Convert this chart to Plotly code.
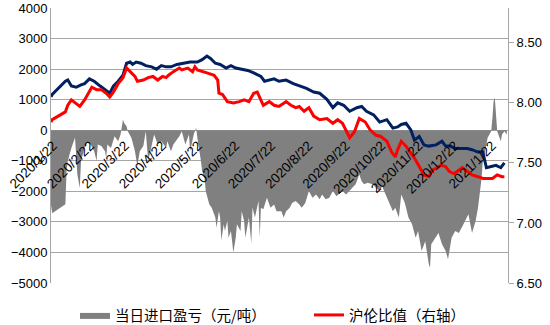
import plotly.graph_objects as go

# ---------------- data ----------------
gray_dates = [
    "2020-01-22", "2020-01-23", "2020-02-03", "2020-02-04", "2020-02-05", "2020-02-08", "2020-02-11",
    "2020-02-13", "2020-02-15", "2020-02-16", "2020-02-19", "2020-02-22", "2020-02-24", "2020-02-27",
    "2020-02-29", "2020-03-01", "2020-03-04", "2020-03-07", "2020-03-08", "2020-03-09", "2020-03-12",
    "2020-03-15", "2020-03-18", "2020-03-20", "2020-03-22", "2020-03-23", "2020-03-25", "2020-03-26",
    "2020-03-29", "2020-04-01", "2020-04-03", "2020-04-05", "2020-04-08", "2020-04-10", "2020-04-12",
    "2020-04-14", "2020-04-17", "2020-04-20", "2020-04-23", "2020-04-27", "2020-04-28", "2020-05-01",
    "2020-05-03", "2020-05-08", "2020-05-10", "2020-05-13", "2020-05-16", "2020-05-17", "2020-05-20",
    "2020-05-22", "2020-05-23", "2020-05-26", "2020-05-27", "2020-05-29", "2020-05-30", "2020-06-02",
    "2020-06-04", "2020-06-07", "2020-06-08", "2020-06-10", "2020-06-11", "2020-06-12", "2020-06-14",
    "2020-06-15", "2020-06-17", "2020-06-18", "2020-06-20", "2020-06-21", "2020-06-22", "2020-06-24",
    "2020-06-25", "2020-06-28", "2020-06-29", "2020-07-01", "2020-07-02", "2020-07-03", "2020-07-05",
    "2020-07-07", "2020-07-08", "2020-07-10", "2020-07-13", "2020-07-14", "2020-07-15", "2020-07-17",
    "2020-07-20", "2020-07-23", "2020-07-26", "2020-07-28", "2020-08-01", "2020-08-03", "2020-08-05",
    "2020-08-08", "2020-08-10", "2020-08-13", "2020-08-16", "2020-08-18", "2020-08-21", "2020-08-24",
    "2020-08-27", "2020-08-30", "2020-09-02", "2020-09-04", "2020-09-07", "2020-09-10", "2020-09-13",
    "2020-09-16", "2020-09-18", "2020-09-21", "2020-09-24", "2020-09-27", "2020-09-29", "2020-10-02",
    "2020-10-05", "2020-10-07", "2020-10-09", "2020-10-12", "2020-10-16", "2020-10-19", "2020-10-22",
    "2020-10-24", "2020-10-27", "2020-10-30", "2020-11-02", "2020-11-04", "2020-11-07", "2020-11-09",
    "2020-11-12", "2020-11-15", "2020-11-18", "2020-11-21", "2020-11-23", "2020-11-26", "2020-11-29",
    "2020-12-02", "2020-12-03", "2020-12-04", "2020-12-07", "2020-12-10", "2020-12-13", "2020-12-16",
    "2020-12-18", "2020-12-21", "2020-12-24", "2020-12-27", "2020-12-30", "2021-01-01", "2021-01-04",
    "2021-01-07", "2021-01-10", "2021-01-12", "2021-01-14", "2021-01-15", "2021-01-16", "2021-01-18",
    "2021-01-20", "2021-01-23", "2021-01-24", "2021-01-25", "2021-01-26", "2021-01-27", "2021-01-28",
    "2021-01-31", "2021-02-01", "2021-02-03", "2021-02-05",
]
gray_values = [
    -2450, -2720, -2420, -1300, -1010, -580, -250,
    -1450, -1890, -1010, -580, -360, -470, -690,
    -1010, -470, -520, -690, -900, -470, -580,
    -200, -360, -140, 350, 240, 130, -30,
    -250, -690, -1180, -690, -520, -30, -1010,
    -690, -140, -470, -360, -580, -360, -690,
    -470, -200, -30, -470, -140, -690, -140,
    80, -250, -1010, -1340, -1560, -1990, -2430,
    -2540, -2860, -3190, -2650, -2860, -3600, -3080,
    -3300, -2970, -3520, -3300, -3630, -4010, -3520,
    -3080, -3300, -2650, -2970, -3520, -3300, -2860,
    -3700, -2540, -2860, -2320, -3500, -2540, -2590,
    -2210, -2540, -2430, -2650, -2650, -2860, -2650,
    -2540, -2380, -2320, -2430, -2540, -2380, -1990,
    -2210, -2100, -2260, -2100, -2260, -2210, -1990,
    -2160, -2100, -1990, -2100, -1990, -1890, -1770,
    -1450, -1670, -1770, -1720, -1770, -1890, -1990,
    -1830, -2100, -2380, -2650, -2540, -2860, -2100,
    -2380, -2860, -3080, -3520, -3300, -3950, -3630,
    -4390, -4500, -3730, -3520, -3360, -3730, -3950,
    -4220, -3520, -3300, -3360, -3140, -2970, -2750,
    -3360, -2970, -2540, -1990, -1560, -1010, -690,
    -250, -30, 400, 950, 1060, 400, -30,
    -360, -140, -30, -140,
]

blue_dates = [
    "2020-01-22", "2020-01-23", "2020-02-03", "2020-02-05", "2020-02-08", "2020-02-12", "2020-02-16",
    "2020-02-19", "2020-02-23", "2020-02-27", "2020-03-03", "2020-03-07", "2020-03-11", "2020-03-14",
    "2020-03-18", "2020-03-22", "2020-03-25", "2020-03-28", "2020-03-30", "2020-04-02", "2020-04-06",
    "2020-04-10", "2020-04-15", "2020-04-19", "2020-04-23", "2020-04-27", "2020-05-01", "2020-05-06",
    "2020-05-12", "2020-05-17", "2020-05-23", "2020-05-27", "2020-05-31", "2020-06-03", "2020-06-07",
    "2020-06-11", "2020-06-16", "2020-06-20", "2020-06-24", "2020-06-28", "2020-07-04", "2020-07-09",
    "2020-07-15", "2020-07-18", "2020-07-22", "2020-07-26", "2020-07-30", "2020-08-05", "2020-08-11",
    "2020-08-17", "2020-08-22", "2020-08-28", "2020-09-02", "2020-09-08", "2020-09-13", "2020-09-17",
    "2020-09-22", "2020-09-27", "2020-10-03", "2020-10-07", "2020-10-11", "2020-10-17", "2020-10-22",
    "2020-10-28", "2020-11-02", "2020-11-06", "2020-11-09", "2020-11-13", "2020-11-17", "2020-11-20",
    "2020-11-24", "2020-11-28", "2020-12-02", "2020-12-08", "2020-12-13", "2020-12-16", "2020-12-20",
    "2020-12-24", "2020-12-30", "2021-01-03", "2021-01-07", "2021-01-12", "2021-01-16", "2021-01-19",
    "2021-01-23", "2021-01-27", "2021-01-31", "2021-02-03",
]
blue_values = [
    8.05, 8.07, 8.18, 8.19, 8.14, 8.13, 8.15,
    8.16, 8.20, 8.18, 8.14, 8.11, 8.08, 8.14,
    8.18, 8.23, 8.33, 8.34, 8.32, 8.34, 8.33,
    8.31, 8.30, 8.28, 8.31, 8.30, 8.30, 8.32,
    8.33, 8.34, 8.34, 8.36, 8.39, 8.37, 8.33,
    8.32, 8.29, 8.31, 8.29, 8.28, 8.27, 8.25,
    8.22, 8.18, 8.19, 8.20, 8.18, 8.19, 8.16,
    8.14, 8.12, 8.09, 8.08, 8.03, 7.96, 8.00,
    7.98, 7.93, 7.96, 7.97, 7.93, 7.90, 7.84,
    7.86, 7.79, 7.80, 7.82, 7.83, 7.775, 7.69,
    7.72, 7.65, 7.64, 7.65, 7.68, 7.64, 7.64,
    7.62, 7.62, 7.62, 7.61, 7.59, 7.59, 7.46,
    7.47, 7.48, 7.46, 7.50,
]

red_dates = [
    "2020-01-22", "2020-01-23", "2020-02-03", "2020-02-05", "2020-02-08", "2020-02-11", "2020-02-15",
    "2020-02-19", "2020-02-22", "2020-02-25", "2020-02-29", "2020-03-04", "2020-03-08", "2020-03-11",
    "2020-03-14", "2020-03-18", "2020-03-22", "2020-03-25", "2020-03-28", "2020-04-01", "2020-04-03",
    "2020-04-08", "2020-04-12", "2020-04-16", "2020-04-20", "2020-04-24", "2020-04-27", "2020-04-29",
    "2020-05-03", "2020-05-08", "2020-05-10", "2020-05-15", "2020-05-19", "2020-05-21", "2020-05-23",
    "2020-05-27", "2020-05-31", "2020-06-06", "2020-06-09", "2020-06-10", "2020-06-13", "2020-06-17",
    "2020-06-22", "2020-06-27", "2020-07-01", "2020-07-05", "2020-07-09", "2020-07-12", "2020-07-15",
    "2020-07-17", "2020-07-22", "2020-07-26", "2020-07-30", "2020-08-05", "2020-08-09", "2020-08-13",
    "2020-08-16", "2020-08-20", "2020-08-24", "2020-08-28", "2020-09-02", "2020-09-08", "2020-09-13",
    "2020-09-17", "2020-09-21", "2020-09-27", "2020-10-01", "2020-10-05", "2020-10-10", "2020-10-14",
    "2020-10-19", "2020-10-23", "2020-10-28", "2020-11-01", "2020-11-04", "2020-11-06", "2020-11-09",
    "2020-11-13", "2020-11-17", "2020-11-20", "2020-11-24", "2020-11-28", "2020-12-02", "2020-12-05",
    "2020-12-08", "2020-12-12", "2020-12-16", "2020-12-19", "2020-12-23", "2020-12-26", "2020-12-30",
    "2021-01-03", "2021-01-07", "2021-01-12", "2021-01-16", "2021-01-20", "2021-01-24", "2021-01-28",
    "2021-02-01", "2021-02-03",
]
red_values = [
    7.84, 7.86, 7.925, 7.98, 8.025, 8.00, 7.97,
    8.025, 8.08, 8.13, 8.11, 8.11, 8.08, 8.05,
    8.09, 8.16, 8.21, 8.29, 8.26, 8.22, 8.18,
    8.19, 8.21, 8.22, 8.19, 8.22, 8.21, 8.23,
    8.26, 8.29, 8.275, 8.29, 8.26, 8.30, 8.275,
    8.26, 8.25, 8.23, 8.19, 8.08, 8.07, 8.01,
    8.00, 8.01, 8.025, 8.01, 8.08, 8.09, 8.025,
    7.98, 8.01, 7.98, 7.97, 8.01, 7.98, 7.96,
    7.97, 7.93, 7.96, 7.89, 7.86, 7.87, 7.83,
    7.86, 7.83, 7.71, 7.76, 7.87, 7.84, 7.775,
    7.73, 7.72, 7.68, 7.59, 7.55, 7.61, 7.68,
    7.64, 7.58, 7.54, 7.47, 7.40, 7.385, 7.44,
    7.455, 7.48, 7.47, 7.43, 7.41, 7.43, 7.46,
    7.43, 7.40, 7.385, 7.37, 7.37, 7.37, 7.40,
    7.385, 7.385,
]

x_tick_dates = [
    "2020-01-22", "2020-02-22", "2020-03-22", "2020-04-22", "2020-05-22", "2020-06-22", "2020-07-22",
    "2020-08-22", "2020-09-22", "2020-10-22", "2020-11-22", "2020-12-22", "2021-01-22",
]
x_tick_labels = [
    "2020/1/22", "2020/2/22", "2020/3/22", "2020/4/22", "2020/5/22", "2020/6/22", "2020/7/22",
    "2020/8/22", "2020/9/22", "2020/10/22", "2020/11/22", "2020/12/22", "2021/1/22",
]
left_ticks = [4000, 3000, 2000, 1000, 0, -1000, -2000, -3000, -4000, -5000]
right_ticks = [6.5, 7.0, 7.5, 8.0, 8.5]
right_tick_labels = ["6.50", "7.00", "7.50", "8.00", "8.50"]

name_gray = "当日进口盈亏（元/吨）"
name_red = "沪伦比值（右轴）"

# ---------------- figure ----------------
NUM_FONT = "Liberation Sans, Arial, sans-serif"
CJK_FONT = "Noto Sans CJK SC, sans-serif"

fig = go.Figure()
fig.add_trace(go.Scatter(
    x=gray_dates, y=gray_values, name=name_gray, mode="lines",
    line=dict(width=0, color="#808080"), fill="tozeroy", fillcolor="#808080",
    yaxis="y", legend="legend",
))
fig.add_trace(go.Scatter(
    x=blue_dates, y=blue_values, name="blue", mode="lines",
    line=dict(width=3, color="#002060"), yaxis="y2", showlegend=False,
))
fig.add_trace(go.Scatter(
    x=red_dates, y=red_values, name=name_red, mode="lines",
    line=dict(width=3, color="#ff0000"), yaxis="y2", legend="legend2",
))

plot_w = 550 - 51 - 42
plot_h = 325 - 8 - 42

fig.update_layout(
    width=550, height=325,
    margin=dict(l=51, r=42, t=8, b=42, autoexpand=False),
    paper_bgcolor="white", plot_bgcolor="white",
    font=dict(family=NUM_FONT, size=13, color="#000000"),
    xaxis=dict(
        type="date", range=["2020-01-22", "2021-02-06"],
        anchor="free", position=5000 / 9000,
        tickvals=x_tick_dates, ticktext=x_tick_labels, tickangle=-45,
        tickfont=dict(family=NUM_FONT, size=13.5, color="#000000"),
        ticklabelstandoff=4, ticklabelshift=2,
        showgrid=False, showline=False, zeroline=False, ticks="", automargin=False,
    ),
    yaxis=dict(
        range=[-5000, 4000], tickvals=left_ticks,
        showgrid=True, gridcolor="#a6a6a6", gridwidth=1, zeroline=False,
        showline=True, linecolor="#a6a6a6", linewidth=1, ticks="",
        tickfont=dict(family=NUM_FONT, size=13, color="#000000"), automargin=False,
    ),
    yaxis2=dict(
        overlaying="y", side="right", range=[6.5, 8.79],
        tickvals=right_ticks, ticktext=right_tick_labels,
        showgrid=False, zeroline=False, showline=True, linecolor="#a6a6a6", linewidth=1,
        ticks="outside", ticklen=5, tickcolor="#a6a6a6",
        tickfont=dict(family=NUM_FONT, size=13, color="#000000"), automargin=False,
    ),
    legend=dict(
        x=(75 - 51) / plot_w, y=(283 - 315) / plot_h, xanchor="left", yanchor="middle",
        orientation="h", font=dict(family=CJK_FONT, size=14.5, color="#000000"),
        bgcolor="rgba(0,0,0,0)",
    ),
    legend2=dict(
        x=(309 - 51) / plot_w, y=(283 - 315) / plot_h, xanchor="left", yanchor="middle",
        orientation="h", font=dict(family=CJK_FONT, size=14.5, color="#000000"),
        bgcolor="rgba(0,0,0,0)",
    ),
    showlegend=True,
)

fig.write_html("out.html")
